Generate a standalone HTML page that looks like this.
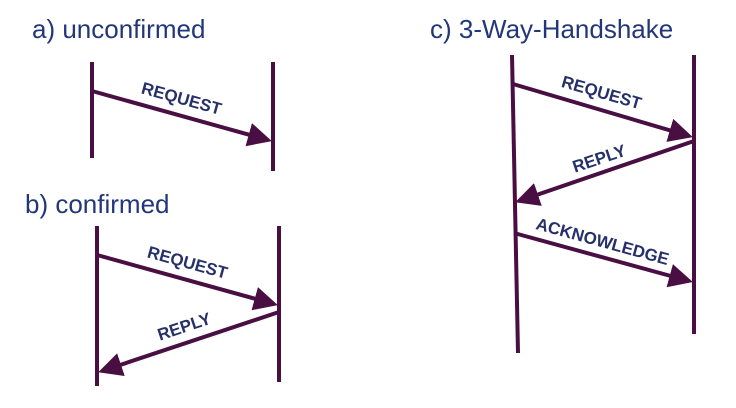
<!DOCTYPE html>
<html><head><meta charset="utf-8"><style>
body{margin:0;background:#fff;}
svg{display:block;}
.t{font-family:"Liberation Sans",Arial,sans-serif;font-size:26px;fill:#22367a;}
.l{font-family:"Liberation Sans",Arial,sans-serif;font-size:17px;font-weight:bold;fill:#26306a;}
.ln{stroke:#4a0f42;stroke-width:4;}
</style></head><body>
<svg width="736" height="408" viewBox="0 0 736 408">
<defs><marker id="ah" markerWidth="6" markerHeight="6" refX="5" refY="3" orient="auto" markerUnits="strokeWidth"><path d="M0,0 L6,3 L0,6 z" fill="#4a0f42"/></marker></defs>

<g>
<text class="t" x="32" y="38">a) unconfirmed</text>
<line class="ln" x1="92" y1="62" x2="92" y2="158"/>
<line class="ln" x1="273" y1="62" x2="273" y2="171"/>
<line class="ln" x1="92" y1="91" x2="268" y2="140" marker-end="url(#ah)"/>
<text class="l" text-anchor="middle" transform="translate(180,104) rotate(15.4)">REQUEST</text>
</g>

<g>
<text class="t" x="25" y="213">b) confirmed</text>
<line class="ln" x1="97" y1="226" x2="97" y2="386"/>
<line class="ln" x1="279" y1="226" x2="279" y2="382"/>
<line class="ln" x1="97" y1="255" x2="274" y2="304" marker-end="url(#ah)"/>
<text class="l" text-anchor="middle" transform="translate(186,268) rotate(15.4)">REQUEST</text>
<line class="ln" x1="279" y1="312" x2="102" y2="371" marker-end="url(#ah)"/>
<text class="l" text-anchor="middle" transform="translate(186,332) rotate(-18.4)">REPLY</text>
</g>

<g>
<text class="t" x="430" y="38">c) 3-Way-Handshake</text>
<line class="ln" x1="512" y1="55" x2="518" y2="353"/>
<line class="ln" x1="694" y1="55" x2="694" y2="334"/>
<line class="ln" x1="513" y1="84" x2="689" y2="136" marker-end="url(#ah)"/>
<text class="l" text-anchor="middle" transform="translate(600,98) rotate(16)">REQUEST</text>
<line class="ln" x1="694" y1="141" x2="519" y2="201" marker-end="url(#ah)"/>
<text class="l" text-anchor="middle" transform="translate(601,164) rotate(-18.5)">REPLY</text>
<line class="ln" x1="514" y1="233" x2="689" y2="281" marker-end="url(#ah)"/>
<text class="l" text-anchor="middle" transform="translate(601,247) rotate(15.3)">ACKNOWLEDGE</text>
</g>
</svg>
</body></html>
